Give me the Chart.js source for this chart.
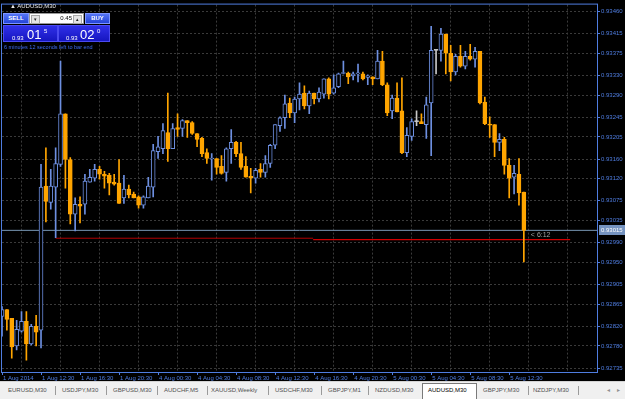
<!DOCTYPE html>
<html><head><meta charset="utf-8">
<script src="https://cdn.jsdelivr.net/npm/chart.js@4.4.1/dist/chart.umd.min.js"></script>
<style>
html,body{margin:0;padding:0;background:#000;width:625px;height:399px;overflow:hidden;font-family:"Liberation Sans",Arial,sans-serif;}
#wrap{position:relative;width:625px;height:399px;background:#000;}
#c{position:absolute;left:0;top:0;}
.abs{position:absolute;white-space:nowrap;}
#title{left:10px;top:2px;font-size:6px;color:#e8e8e8;line-height:8px;}
.btn{position:absolute;top:13px;height:11px;background:linear-gradient(#5575f5,#2444d8);border:1px solid #7d95ff;box-sizing:border-box;color:#fff;font-size:6px;font-weight:bold;line-height:9px;text-align:center;}
#spin{position:absolute;left:29px;top:13px;width:55px;height:11px;background:#fff;border:1px solid #9a9a9a;box-sizing:border-box;}
.sb{position:absolute;top:1px;width:7px;height:7px;background:#e4e4e4;border:1px solid #a8a8a8;font-size:5px;line-height:7px;text-align:center;color:#222;}
.pbox{position:absolute;top:25px;height:17px;background:linear-gradient(#3030e8,#1616c0);border:1px solid #4a4af0;box-sizing:border-box;color:#fff;}
.sm{position:absolute;font-size:6px;line-height:6px;}
.big{position:absolute;font-size:13px;line-height:13px;}
#cd{left:4px;top:44px;font-size:5.5px;color:#3f6cf2;line-height:6px;}
#tabs{position:absolute;left:0;top:381px;width:625px;height:18px;background:#f0f0f0;border-top:1px solid #d4d4d4;box-sizing:border-box;}
.tab{position:absolute;top:5px;font-size:6px;line-height:7px;color:#505050;}
.sep{position:absolute;top:4px;width:1px;height:9px;background:#9a9a9a;}
#active{position:absolute;left:422px;top:1px;width:55px;height:17px;background:#fff;border:1px solid #7a7a7a;border-bottom:none;box-sizing:border-box;}
</style></head><body>
<div id="wrap">
<canvas id="c" width="625" height="381"></canvas>
<div id="title" class="abs">▲ AUDUSD,M30</div>
<div class="btn" style="left:3px;width:26px;">SELL</div>
<div id="spin">
  <div class="sb" style="left:1px;">▾</div>
  <div class="abs" style="right:11px;top:1px;font-size:6px;line-height:7px;color:#000;">0.45</div>
  <div class="sb" style="right:1px;">▴</div>
</div>
<div class="btn" style="left:85px;width:25px;">BUY</div>
<div class="pbox" style="left:3px;width:55px;">
  <span class="sm" style="left:8px;top:9px;">0.93</span>
  <span class="big" style="left:23px;top:2px;">01</span>
  <span class="sm" style="left:40px;top:2px;">5</span>
</div>
<div class="pbox" style="left:58px;width:52px;">
  <span class="sm" style="left:7px;top:9px;">0.93</span>
  <span class="big" style="left:21px;top:2px;">02</span>
  <span class="sm" style="left:38px;top:2px;">0</span>
</div>
<div id="cd" class="abs">6 minutes 12 seconds left to bar end</div>
<div id="tabs">
  <div id="active"></div>
  <span class="tab" style="left:8px;">EURUSD,M30</span><span class="sep" style="left:55px;"></span>
  <span class="tab" style="left:62px;">USDJPY,M30</span><span class="sep" style="left:106px;"></span>
  <span class="tab" style="left:113px;">GBPUSD,M30</span><span class="sep" style="left:157px;"></span>
  <span class="tab" style="left:164px;">AUDCHF,M5</span><span class="sep" style="left:207px;"></span>
  <span class="tab" style="left:211px;">XAUUSD,Weekly</span><span class="sep" style="left:268px;"></span>
  <span class="tab" style="left:275px;">USDCHF,M30</span><span class="sep" style="left:321px;"></span>
  <span class="tab" style="left:328px;">GBPJPY,M1</span><span class="sep" style="left:368px;"></span>
  <span class="tab" style="left:375px;">NZDUSD,M30</span>
  <span class="tab" style="left:428px;color:#000;">AUDUSD,M30</span>
  <span class="tab" style="left:483px;">GBPJPY,M30</span><span class="sep" style="left:528px;"></span>
  <span class="tab" style="left:533px;">NZDJPY,M30</span><span class="sep" style="left:578px;"></span>
  <span class="tab" style="left:607px;color:#909090;">◂</span>
  <span class="tab" style="left:617px;color:#909090;">▸</span>
</div>
</div>
<script>
// ---- data (AUDUSD, M30, bar index 0 = 1 Aug 2014 08:00) ----
const opens = [0.92840,0.92854,0.92836,0.92780,0.92810,0.92830,0.92784,0.92820,0.92812,0.93105,
0.93072,0.93103,0.93149,0.93252,0.93159,0.93048,0.93068,0.93068,0.93113,0.93121,
0.93139,0.93129,0.93127,0.93113,0.93111,0.93081,0.93099,0.93089,0.93083,0.93066,
0.93081,0.93103,0.93175,0.93181,0.93214,0.93181,0.93224,0.93222,0.93238,0.93234,
0.93212,0.93202,0.93173,0.93160,0.93161,0.93145,0.93133,0.93181,0.93194,0.93171,
0.93145,0.93125,0.93121,0.93139,0.93133,0.93151,0.93188,0.93228,0.93244,0.93274,
0.93254,0.93282,0.93294,0.93268,0.93294,0.93282,0.93292,0.93323,0.93294,0.93307,
0.93334,0.93335,0.93329,0.93333,0.93333,0.93326,0.93327,0.93323,0.93359,0.93311,
0.93258,0.93284,0.93258,0.93173,0.93206,0.93236,0.93236,0.93230,0.93274,0.93381,
0.93381,0.93414,0.93375,0.93337,0.93369,0.93349,0.93369,0.93363,0.93379,0.93276,
0.93231,0.93230,0.93194,0.93200,0.93147,0.93123,0.93129,0.93093];
const highs = [0.92860,0.92854,0.92836,0.92832,0.92850,0.92850,0.92824,0.92842,0.93149,0.93183,
0.93139,0.93183,0.93359,0.93252,0.93163,0.93081,0.93083,0.93129,0.93139,0.93149,
0.93145,0.93135,0.93131,0.93129,0.93159,0.93127,0.93107,0.93093,0.93085,0.93085,
0.93123,0.93190,0.93206,0.93232,0.93294,0.93232,0.93252,0.93240,0.93238,0.93236,
0.93212,0.93204,0.93181,0.93171,0.93161,0.93167,0.93183,0.93220,0.93196,0.93194,
0.93165,0.93141,0.93141,0.93151,0.93167,0.93190,0.93230,0.93246,0.93290,0.93284,
0.93286,0.93315,0.93309,0.93298,0.93294,0.93305,0.93323,0.93325,0.93331,0.93335,
0.93359,0.93337,0.93337,0.93353,0.93337,0.93331,0.93327,0.93381,0.93379,0.93315,
0.93290,0.93315,0.93325,0.93224,0.93242,0.93258,0.93252,0.93286,0.93430,0.93383,
0.93426,0.93414,0.93391,0.93373,0.93391,0.93379,0.93393,0.93387,0.93379,0.93286,
0.93246,0.93230,0.93212,0.93204,0.93161,0.93147,0.93161,0.93093];
const lows = [0.92800,0.92812,0.92755,0.92772,0.92808,0.92751,0.92782,0.92780,0.92776,0.93032,
0.93058,0.93000,0.93145,0.93101,0.93028,0.93014,0.93030,0.93048,0.93113,0.93115,
0.93119,0.93101,0.93087,0.93107,0.93070,0.93070,0.93081,0.93081,0.93060,0.93060,
0.93081,0.93083,0.93161,0.93171,0.93155,0.93181,0.93206,0.93206,0.93204,0.93210,
0.93185,0.93165,0.93151,0.93117,0.93129,0.93129,0.93115,0.93151,0.93165,0.93139,
0.93123,0.93091,0.93111,0.93123,0.93123,0.93143,0.93181,0.93216,0.93222,0.93244,
0.93234,0.93260,0.93262,0.93252,0.93272,0.93276,0.93284,0.93282,0.93292,0.93305,
0.93333,0.93313,0.93321,0.93317,0.93321,0.93311,0.93311,0.93323,0.93309,0.93248,
0.93242,0.93256,0.93171,0.93165,0.93198,0.93228,0.93232,0.93202,0.93167,0.93333,
0.93359,0.93333,0.93319,0.93331,0.93347,0.93343,0.93361,0.93347,0.93272,0.93230,
0.93204,0.93165,0.93177,0.93129,0.93081,0.93089,0.93066,0.92951];
const closes = [0.92854,0.92834,0.92778,0.92814,0.92830,0.92784,0.92820,0.92808,0.93103,0.93074,
0.93105,0.93151,0.93252,0.93159,0.93048,0.93068,0.93064,0.93115,0.93123,0.93139,
0.93129,0.93125,0.93111,0.93109,0.93070,0.93099,0.93087,0.93081,0.93066,0.93083,
0.93105,0.93177,0.93185,0.93218,0.93181,0.93222,0.93220,0.93238,0.93234,0.93212,
0.93200,0.93171,0.93161,0.93162,0.93143,0.93131,0.93181,0.93194,0.93171,0.93143,
0.93123,0.93121,0.93137,0.93133,0.93151,0.93188,0.93230,0.93244,0.93272,0.93254,
0.93282,0.93292,0.93268,0.93294,0.93282,0.93296,0.93323,0.93292,0.93305,0.93333,
0.93335,0.93327,0.93333,0.93335,0.93323,0.93329,0.93323,0.93359,0.93311,0.93254,
0.93284,0.93256,0.93173,0.93208,0.93236,0.93236,0.93232,0.93270,0.93381,0.93381,
0.93414,0.93375,0.93337,0.93369,0.93349,0.93369,0.93363,0.93379,0.93274,0.93232,
0.93229,0.93194,0.93200,0.93147,0.93121,0.93131,0.93091,0.93015];

const xTickBars   = [0, 8, 16, 24, 32, 40, 48, 56, 64, 72, 80, 88, 96, 104];
const xTickLabels = ["1 Aug 2014","1 Aug 12:30","1 Aug 16:30","1 Aug 20:30","4 Aug 00:30","4 Aug 04:30",
  "4 Aug 08:30","4 Aug 12:30","4 Aug 16:30","4 Aug 20:30","5 Aug 00:30","5 Aug 04:30","5 Aug 08:30","5 Aug 12:30"];
const xGridBars   = [4, 12, 20, 28, 36, 44, 52, 60, 68, 76, 84, 92, 100, 108, 116];
const yTickValues = [0.93460,0.93415,0.93375,0.93330,0.93290,0.93245,0.93205,0.93160,0.93120,
  0.93075,0.93035,0.92990,0.92950,0.92905,0.92865,0.92820,0.92780,0.92735];
const bidPrice = 0.93015;
const hLine1 = [{x: 11, y: 0.92999}, {x: 63.8, y: 0.92999}];
const hLine2 = [{x: 63.8, y: 0.92996}, {x: 116.5, y: 0.92996}];
const countdownText = "< 6:12";

// ---- styling ----
const BULL = '#6d8fe0', BEAR = '#ffa500', DOJI = '#c8c8c8';
const AXIS = '#4f7de0', GRID = '#3a3a3a';
const FONT = {family: 'Liberation Sans', size: 6};

const dir = opens.map((o, i) => closes[i] > o ? 1 : (closes[i] < o ? -1 : 0));
const col = dir.map(d => d > 0 ? BULL : (d < 0 ? BEAR : DOJI));
const bodies = opens.map((o, i) => ({x: i, y: [o, closes[i]]}));
const wicks = opens.map((o, i) => ({x: i, y: [lows[i], highs[i]]}));

const overlay = {
  id: 'overlay',
  afterDraw(chart) {
    const {ctx, chartArea: a, scales} = chart;
    ctx.save();
    ctx.strokeStyle = AXIS; ctx.lineWidth = 1;
    ctx.strokeRect(a.left - 0.5, a.top - 0.5, a.right - a.left + 1, a.bottom - a.top + 1);
    const yb = scales.y.getPixelForValue(bidPrice);
    ctx.fillStyle = '#7593c0';
    ctx.fillRect(a.right + 2, Math.round(yb) - 5, 26, 10);
    ctx.fillStyle = '#ffffff';
    ctx.font = '6px "Liberation Sans"';
    ctx.textBaseline = 'middle'; ctx.textAlign = 'left';
    ctx.fillText(bidPrice.toFixed(5), a.right + 4, Math.round(yb));
    ctx.fillStyle = '#a0a0a0';
    ctx.font = '7px "Liberation Sans"';
    const xl = scales.x.getPixelForValue(opens.length - 1);
    ctx.fillText(countdownText, xl + 7, yb + 5);
    ctx.restore();
  }
};

new Chart(document.getElementById('c'), {
  type: 'bar',
  data: {
    datasets: [
      {label: 'body', data: bodies, backgroundColor: dir.map(d => d > 0 ? '#000000' : (d < 0 ? BEAR : DOJI)),
       borderColor: col, borderWidth: 1, borderSkipped: false, barThickness: 4, minBarLength: 1,
       grouped: false, order: 0},
      {label: 'wick', data: wicks, backgroundColor: col, borderWidth: 0, barThickness: 1,
       grouped: false, order: 1},
      {type: 'line', label: 'bid', data: [{x: 0, y: bidPrice}, {x: 122, y: bidPrice}],
       borderColor: '#7896b4', borderWidth: 1, pointRadius: 0, order: 3},
      {type: 'line', label: 'level1', data: hLine1, borderColor: '#b00000', borderWidth: 1, pointRadius: 0, order: 2},
      {type: 'line', label: 'level2', data: hLine2, borderColor: '#ff0000', borderWidth: 1, pointRadius: 0, order: 2}
    ]
  },
  options: {
    responsive: false, animation: false, devicePixelRatio: 1,
    layout: {padding: {left: 2, top: 2, right: 0, bottom: 0}},
    plugins: {legend: {display: false}, tooltip: {enabled: false}},
    scales: {
      x: {
        type: 'linear', min: 0, max: 122, offset: false, position: 'bottom',
        grid: {display: true, offset: false, drawOnChartArea: false, drawTicks: true, tickLength: 3, tickColor: AXIS},
        border: {display: false},
        ticks: {autoSkip: false, maxRotation: 0, align: 'start', padding: 0, color: AXIS, font: FONT, labelOffset: 1,
          callback: (v) => { const k = xTickBars.indexOf(v); return k >= 0 ? xTickLabels[k] : ''; }},
        afterBuildTicks: s => { s.ticks = xTickBars.map(v => ({value: v})); },
        afterFit: s => { s.height = 9; }
      },
      xg: {
        type: 'linear', min: 0, max: 122, offset: false, position: 'bottom',
        grid: {display: true, offset: false, color: GRID, drawTicks: false},
        border: {display: false, dash: [2, 2]},
        ticks: {display: false},
        afterBuildTicks: s => { s.ticks = xGridBars.map(v => ({value: v})); },
        afterFit: s => { s.height = 0; }
      },
      y: {
        type: 'linear', position: 'right', min: 0.92727, max: 0.93474,
        grid: {display: true, color: GRID, drawTicks: true, tickLength: 3, tickColor: AXIS},
        border: {display: false, dash: [2, 2]},
        ticks: {autoSkip: false, padding: 1, color: AXIS, font: FONT, callback: v => v.toFixed(5)},
        afterBuildTicks: s => { s.ticks = yTickValues.map(v => ({value: v})); },
        afterFit: s => { s.width = 28; }
      }
    }
  },
  plugins: [overlay]
});
</script>
</body></html>
